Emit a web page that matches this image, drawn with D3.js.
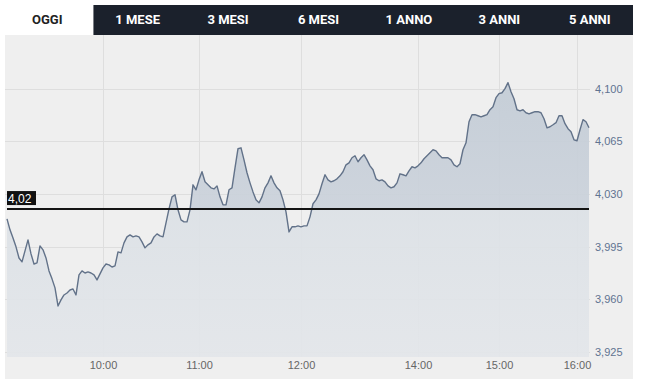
<!DOCTYPE html>
<html lang="it">
<head>
<meta charset="utf-8">
<title>OGGI</title>
<script src="https://cdn.jsdelivr.net/npm/d3@7"></script>
<style>
  body { margin: 0; background: #fff; font-family: "Liberation Sans", Arial, sans-serif; }
</style>
</head>
<body>
<div id="chart"></div>
<script>
    var tabs = ["OGGI", "1 MESE", "3 MESI", "6 MESI", "1 ANNO", "3 ANNI", "5 ANNI"];
    var prevClose = 4.02;
    var timeLabels = ["10:00", "11:00", "12:00", "14:00", "15:00", "16:00"];
    var timeIdx = [32, 64, 98, 137, 164, 190];
    var yTicks = [3.925, 3.960, 3.995, 4.030, 4.065, 4.100];
    // intraday prices at regular steps
    var prices = [
        4.0135, 4.0062, 4.0008, 3.9949, 3.9875, 3.9849, 3.9922, 3.9995, 3.9902, 3.9835,
        3.9842, 3.9955, 3.9929, 3.9875, 3.9789, 3.9736, 3.9676, 3.9556, 3.9596, 3.9629,
        3.9642, 3.9662, 3.9669, 3.9629, 3.9762, 3.9789, 3.9775, 3.9782, 3.9775, 3.9762,
        3.9729, 3.9769, 3.9809, 3.9835, 3.9829, 3.9815, 3.9822, 3.9915, 3.9909, 3.9975,
        4.0015, 4.0028, 4.0015, 4.0022, 4.0015, 3.9982, 3.9942, 3.9962, 3.9975, 4.0015,
        4.0035, 4.0022, 4.0015, 4.0108, 4.0201, 4.0281, 4.0295, 4.0195, 4.0128, 4.0115,
        4.0115, 4.0195, 4.0361, 4.0328, 4.0394, 4.0448, 4.0381, 4.0361, 4.0341, 4.0334,
        4.0354, 4.0281, 4.0228, 4.0228, 4.0328, 4.0341, 4.0474, 4.0601, 4.0607, 4.0527,
        4.0441, 4.0374, 4.0314, 4.0261, 4.0241, 4.0281, 4.0341, 4.0374, 4.0421, 4.0374,
        4.0341, 4.0321, 4.0261, 4.0181, 4.0048, 4.0082, 4.0082, 4.0088, 4.0082, 4.0088,
        4.0088, 4.0148, 4.0235, 4.0261, 4.0301, 4.0368, 4.0428, 4.0394, 4.0381, 4.0388,
        4.0401, 4.0421, 4.0448, 4.0494, 4.0507, 4.0541, 4.0554, 4.0514, 4.0541, 4.0561,
        4.0527, 4.0487, 4.0461, 4.0401, 4.0388, 4.0394, 4.0381, 4.0354, 4.0341, 4.0348,
        4.0374, 4.0434, 4.0428, 4.0421, 4.0454, 4.0481, 4.0474, 4.0487, 4.0507, 4.0534,
        4.0554, 4.0574, 4.0594, 4.0587, 4.0561, 4.0541, 4.0541, 4.0541, 4.0527, 4.0494,
        4.0481, 4.0501, 4.0594, 4.0640, 4.0780, 4.0827, 4.0827, 4.0820, 4.0813, 4.0820,
        4.0827, 4.0860, 4.0880, 4.0940, 4.0967, 4.0973, 4.1000, 4.1040, 4.0980, 4.0933,
        4.0860, 4.0853, 4.0860, 4.0840, 4.0833, 4.0840, 4.0847, 4.0847, 4.0840, 4.0800,
        4.0740, 4.0747, 4.0760, 4.0774, 4.0820, 4.0820, 4.0767, 4.0734, 4.0714, 4.0660,
        4.0654, 4.0727, 4.0794, 4.0780, 4.0740
    ];

    var w = 645;
    var h = 379;
    var plotLeft = 5, plotRight = 590, plotTop = 35, plotBottom = 357;

    var svg = d3.select("#chart")
        .append("svg")
        .attr("width", w)
        .attr("height", h);

    // panel background
    svg.append("rect")
        .attr("x", plotLeft)
        .attr("y", plotTop)
        .attr("width", 633 - plotLeft)
        .attr("height", h - plotTop)
        .attr("fill", "#efefef");

    // tab bar
    var tabScale = d3.scaleBand()
        .domain(tabs)
        .range([2, 635]);

    svg.append("rect")
        .attr("x", tabScale(tabs[1]) + 1)
        .attr("y", 5)
        .attr("width", 633 - tabScale(tabs[1]) - 1)
        .attr("height", 30)
        .attr("fill", "#1b212c");

    svg.selectAll("text.tab")
        .data(tabs)
        .enter()
        .append("text")
        .attr("class", "tab")
        .attr("x", function (d) { return tabScale(d) + tabScale.bandwidth() / 2; })
        .attr("y", 24)
        .attr("text-anchor", "middle")
        .attr("font-family", "Roboto, sans-serif")
        .attr("font-weight", 700)
        .attr("font-size", "13px")
        .attr("fill", function (d, i) { return i === 0 ? "#222" : "#fff"; })
        .text(function (d) { return d; });

    var xScale = d3.scaleLinear()
        .domain([0, prices.length - 1])
        .range([7, 589]);

    var yScale = d3.scaleLinear()
        .domain([3.925, 4.135])
        .range([352, 36]);

    // grid
    svg.append("g")
        .selectAll("line")
        .data(yTicks)
        .enter()
        .append("line")
        .attr("x1", plotLeft)
        .attr("x2", plotRight)
        .attr("y1", function (d) { return Math.round(yScale(d)) + 0.5; })
        .attr("y2", function (d) { return Math.round(yScale(d)) + 0.5; })
        .attr("stroke", "#dedede");

    svg.append("g")
        .selectAll("line")
        .data(timeIdx)
        .enter()
        .append("line")
        .attr("x1", function (d) { return Math.round(xScale(d)) + 0.5; })
        .attr("x2", function (d) { return Math.round(xScale(d)) + 0.5; })
        .attr("y1", plotTop)
        .attr("y2", plotBottom)
        .attr("stroke", "#dedede");

    // fill gradient, darker above previous close
    var split = (yScale(prevClose) - yScale(4.10)) / (plotBottom - yScale(4.10));
    var grad = svg.append("defs").append("linearGradient")
        .attr("id", "areaGrad")
        .attr("gradientUnits", "userSpaceOnUse")
        .attr("x1", 0).attr("x2", 0)
        .attr("y1", yScale(4.10)).attr("y2", plotBottom);
    grad.append("stop").attr("offset", 0).attr("stop-color", "#c3ccd6");
    grad.append("stop").attr("offset", split).attr("stop-color", "#cbd2db");
    grad.append("stop").attr("offset", split + 0.005).attr("stop-color", "#dce1e6");
    grad.append("stop").attr("offset", 1).attr("stop-color", "#e3e6ea");

    var area = d3.area()
        .x(function (d, i) { return xScale(i); })
        .y0(plotBottom)
        .y1(function (d) { return yScale(d); });

    svg.append("path")
        .datum(prices)
        .attr("d", area)
        .attr("fill", "url(#areaGrad)")
        .attr("fill-opacity", 0.92);

    var line = d3.line()
        .x(function (d, i) { return xScale(i); })
        .y(function (d) { return yScale(d); });

    svg.append("path")
        .datum(prices)
        .attr("d", line)
        .attr("fill", "none")
        .attr("stroke", "#627289")
        .attr("stroke-width", 1.4)
        .attr("stroke-linejoin", "round");

    // previous close line + label
    svg.append("line")
        .attr("x1", xScale(0))
        .attr("x2", xScale(prices.length - 1))
        .attr("y1", yScale(prevClose))
        .attr("y2", yScale(prevClose))
        .attr("stroke", "#141414")
        .attr("stroke-width", 2);

    svg.append("rect")
        .attr("x", 7)
        .attr("y", yScale(prevClose) - 18)
        .attr("width", 29)
        .attr("height", 14)
        .attr("fill", "#111");

    svg.append("text")
        .attr("x", 8)
        .attr("y", yScale(prevClose) - 6)
        .attr("font-size", "12px")
        .attr("fill", "#fff")
        .text(d3.format(".2f")(prevClose).replace(".", ","));

    // axes
    var xAxis = d3.axisBottom(xScale)
        .tickValues(timeIdx)
        .tickFormat(function (d, i) { return timeLabels[i]; })
        .tickSize(0)
        .tickPadding(4);

    var gx = svg.append("g")
        .attr("transform", "translate(0," + plotBottom + ")")
        .call(xAxis);
    gx.select(".domain").remove();
    gx.selectAll("text")
        .attr("font-family", "Liberation Sans, Arial, sans-serif")
        .attr("font-size", "11px")
        .attr("fill", "#666");

    var yAxis = d3.axisRight(yScale)
        .tickValues(yTicks)
        .tickFormat(function (d) { return d3.format(".3f")(d).replace(".", ","); })
        .tickSize(0)
        .tickPadding(5);

    var gy = svg.append("g")
        .attr("transform", "translate(" + plotRight + ",0)")
        .call(yAxis);
    gy.select(".domain").remove();
    gy.selectAll("text")
        .attr("font-family", "Liberation Sans, Arial, sans-serif")
        .attr("font-size", "11px")
        .attr("fill", "#5f7391");
</script>
</body>
</html>
